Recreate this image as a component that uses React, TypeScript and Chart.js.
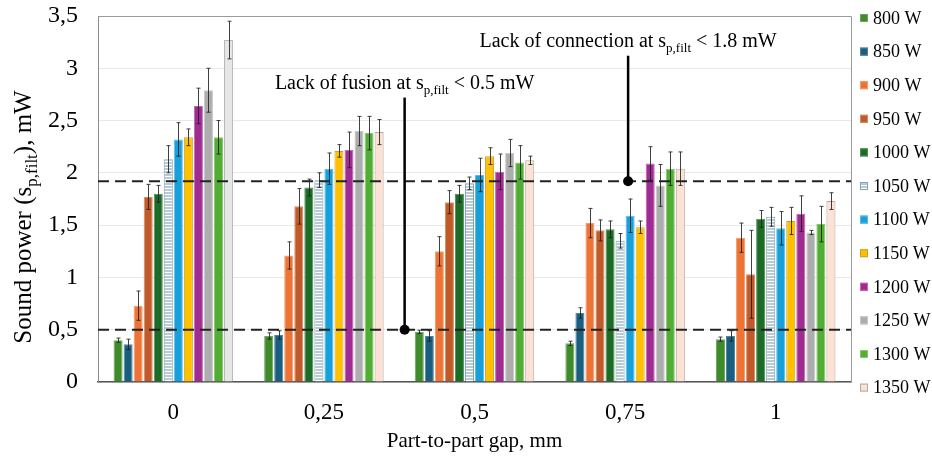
import React, { useEffect, useRef } from 'react';
import { Chart, registerables } from 'chart.js';
Chart.register(...registerables);

const FONT = '"Liberation Serif", "Times New Roman", serif';

// ---- data ----
const gaps = ['0', '0,25', '0,5', '0,75', '1'];
const powerLabels = ['800 W', '850 W', '900 W', '950 W', '1000 W', '1050 W', '1100 W', '1150 W', '1200 W', '1250 W', '1300 W', '1350 W'];
const yTicks = [0, 0.5, 1, 1.5, 2, 2.5, 3, 3.5];

const p800 = [0.40, 0.44, 0.48, 0.37, 0.41];
const p850 = [0.36, 0.45, 0.44, 0.66, 0.44];
const p900 = [0.73, 1.21, 1.25, 1.52, 1.38];
const p950 = [1.77, 1.68, 1.72, 1.45, 1.03];
const p1000 = [1.80, 1.86, 1.80, 1.46, 1.56];
const p1050 = [2.13, 1.93, 1.90, 1.35, 1.58];
const p1100 = [2.32, 2.04, 1.98, 1.59, 1.47];
const p1150 = [2.34, 2.21, 2.16, 1.48, 1.54];
const p1200 = [2.64, 2.22, 2.01, 2.09, 1.61];
const p1250 = [2.79, 2.40, 2.19, 1.88, 1.43];
const p1300 = [2.34, 2.38, 2.10, 2.04, 1.51];
const p1350 = [3.27, 2.39, 2.12, 2.04, 1.73];

const e800 = [0.02, 0.03, 0.015, 0.02, 0.02];
const e850 = [0.05, 0.04, 0.05, 0.05, 0.05];
const e900 = [0.14, 0.13, 0.14, 0.14, 0.14];
const e950 = [0.12, 0.17, 0.11, 0.10, 0.42];
const e1000 = [0.08, 0.08, 0.08, 0.08, 0.08];
const e1050 = [0.13, 0.07, 0.06, 0.07, 0.09];
const e1100 = [0.16, 0.15, 0.16, 0.16, 0.16];
const e1150 = [0.08, 0.06, 0.08, 0.06, 0.13];
const e1200 = [0.17, 0.17, 0.17, 0.16, 0.17];
const e1250 = [0.21, 0.14, 0.13, 0.20, 0.02];
const e1300 = [0.16, 0.16, 0.16, 0.16, 0.17];
const e1350 = [0.18, 0.12, 0.04, 0.16, 0.08];

const fusionLimit = 0.5;
const connectionLimit = 1.92;
const fusionMarkerX = 1.536;     // category-index position of the marker line
const connectionMarkerX = 3.02;
const fusionMarkerTop = 2.72;
const connectionMarkerTop = 3.12;
const fusionTextY = 2.8;
const connectionTextY = 3.2;

const values = [p800, p850, p900, p950, p1000, p1050, p1100, p1150, p1200, p1250, p1300, p1350];
const errors = [e800, e850, e900, e950, e1000, e1050, e1100, e1150, e1200, e1250, e1300, e1350];

export default function App() {
  const ref = useRef<HTMLCanvasElement>(null);

  useEffect(() => {
    const canvas = ref.current!;
    const tile = document.createElement('canvas');
    tile.width = 4;
    tile.height = 3;
    const tctx = tile.getContext('2d')!;
    tctx.fillStyle = '#b7cbd7';
    tctx.fillRect(0, 0, 4, 2);
    tctx.fillStyle = '#ffffff';
    tctx.fillRect(0, 2, 4, 1);
    const pattern = canvas.getContext('2d')!.createPattern(tile, 'repeat')!;

    const fills: any[] = [
      '#3f8a2a', '#1a5f80', '#ed7434', '#c05a28', '#1c6b27', pattern,
      '#17a0da', '#ffc000', '#a02b92', '#adadad', '#52ad34',
      ['#e6e6e6', '#fbe2d5', '#fbe2d5', '#fbe2d5', '#fbe2d5'],
    ];
    const borders: any[] = [
      '#6aa85a', '#4f86a0', '#f29a6a', '#d68a62', '#4f8f57', '#8aa3b2',
      '#5cbce6', '#c9a030', '#bd66b2', '#c8c8c8', '#86c870',
      ['#b8b8b8', '#b9a79d', '#b9a79d', '#b9a79d', '#b9a79d'],
    ];

    const datasets = values.map((v, i) => ({
      label: powerLabels[i],
      data: v,
      backgroundColor: fills[i],
      borderColor: borders[i],
      borderWidth: 1,
      categoryPercentage: 0.8,
      barPercentage: 0.9,
    }));

    const subText = (ctx: CanvasRenderingContext2D, parts: [string, boolean][], size: number) => {
      let w = 0;
      for (const [t, sub] of parts) {
        ctx.font = `${sub ? Math.round(size * 0.66) : size}px ${FONT}`;
        w += ctx.measureText(t).width;
      }
      return w;
    };
    const drawSubText = (ctx: CanvasRenderingContext2D, parts: [string, boolean][], size: number, x: number, y: number) => {
      ctx.textBaseline = 'alphabetic';
      ctx.textAlign = 'left';
      let cx = x;
      for (const [t, sub] of parts) {
        ctx.font = `${sub ? Math.round(size * 0.66) : size}px ${FONT}`;
        ctx.fillText(t, cx, sub ? y + size * 0.22 : y);
        cx += ctx.measureText(t).width;
      }
    };

    const overlay = {
      id: 'overlay',
      beforeDatasetsDraw(chart: any) {
        const { ctx, chartArea: a } = chart;
        ctx.save();
        ctx.strokeStyle = '#9a9a9a';
        ctx.lineWidth = 1;
        ctx.beginPath();
        ctx.moveTo(a.left, a.top + 0.5);
        ctx.lineTo(a.right + 0.5, a.top + 0.5);
        ctx.lineTo(a.right + 0.5, a.bottom);
        ctx.stroke();
        ctx.restore();
      },
      afterDatasetsDraw(chart: any) {
        const { ctx, chartArea: a, scales } = chart;
        const ys = scales.y;
        const xs = scales.x;
        ctx.save();
        // error bars
        ctx.strokeStyle = 'rgba(30,30,30,0.85)';
        ctx.lineWidth = 1;
        chart.data.datasets.forEach((ds: any, i: number) => {
          const meta = chart.getDatasetMeta(i);
          meta.data.forEach((bar: any, j: number) => {
            const v = ds.data[j];
            const e = errors[i][j];
            const y1 = ys.getPixelForValue(v + e);
            const y2 = ys.getPixelForValue(v - e);
            const x = Math.round(bar.x) + 0.5;
            ctx.beginPath();
            ctx.moveTo(x, y1);
            ctx.lineTo(x, y2);
            ctx.moveTo(x - 2, y1);
            ctx.lineTo(x + 2, y1);
            ctx.moveTo(x - 2, y2);
            ctx.lineTo(x + 2, y2);
            ctx.stroke();
          });
        });
        // dashed limits
        ctx.strokeStyle = '#222';
        ctx.lineWidth = 2;
        ctx.setLineDash([11, 6]);
        [fusionLimit, connectionLimit].forEach((lv) => {
          const y = ys.getPixelForValue(lv);
          ctx.beginPath();
          ctx.moveTo(a.left, y);
          ctx.lineTo(a.right, y);
          ctx.stroke();
        });
        ctx.setLineDash([]);
        // markers
        const markers = [
          { x: fusionMarkerX, top: fusionMarkerTop, bottom: fusionLimit, ty: fusionTextY, parts: [['Lack of fusion at s', false], ['p,filt', true], [' < 0.5 mW', false]] },
          { x: connectionMarkerX, top: connectionMarkerTop, bottom: connectionLimit, ty: connectionTextY, parts: [['Lack of connection at s', false], ['p,filt', true], [' < 1.8 mW', false]] },
        ];
        markers.forEach((m: any) => {
          const px = xs.getPixelForValue(m.x);
          const pt = ys.getPixelForValue(m.top);
          const pb = ys.getPixelForValue(m.bottom);
          ctx.strokeStyle = '#000';
          ctx.lineWidth = 2.5;
          ctx.beginPath();
          ctx.moveTo(px, pt);
          ctx.lineTo(px, pb);
          ctx.stroke();
          ctx.fillStyle = '#000';
          ctx.beginPath();
          ctx.arc(px, pb, 5, 0, Math.PI * 2);
          ctx.fill();
          const w = subText(ctx, m.parts, 20);
          ctx.fillStyle = '#000';
          drawSubText(ctx, m.parts, 20, px - w / 2, ys.getPixelForValue(m.ty));
        });
        ctx.restore();
      },
      afterDraw(chart: any) {
        const { ctx, chartArea: a } = chart;
        ctx.save();
        // y title
        const parts: [string, boolean][] = [['Sound power (s', false], ['p,filt', true], ['), mW', false]];
        const size = 25;
        const w = subText(ctx, parts, size);
        ctx.translate(31, 217);
        ctx.rotate(-Math.PI / 2);
        ctx.fillStyle = '#000';
        drawSubText(ctx, parts, size, -w / 2, 0);
        ctx.restore();
        // legend
        ctx.save();
        const step = 33.6;
        const top = a.top + 2;
        powerLabels.forEach((lab, i) => {
          const cy = top + i * step;
          const bx = a.right + 9;
          ctx.fillStyle = Array.isArray(fills[i]) ? fills[i][1] : fills[i];
          ctx.fillRect(bx, cy - 4, 8, 8);
          ctx.strokeStyle = Array.isArray(borders[i]) ? borders[i][1] : borders[i];
          ctx.lineWidth = 1;
          ctx.strokeRect(bx + 0.5, cy - 3.5, 7, 7);
          ctx.fillStyle = '#000';
          ctx.font = `18px ${FONT}`;
          ctx.textAlign = 'left';
          ctx.textBaseline = 'middle';
          ctx.fillText(lab, a.right + 22, cy + 1);
        });
        ctx.restore();
      },
    };

    const chart = new Chart(canvas, {
      type: 'bar',
      data: { labels: gaps, datasets },
      plugins: [overlay],
      options: {
        animation: false,
        responsive: true,
        maintainAspectRatio: false,
        layout: { padding: { top: 16, right: 81, left: 0, bottom: 0 } },
        plugins: { legend: { display: false }, tooltip: { enabled: false } },
        scales: {
          x: {
            grid: { display: false },
            border: { color: '#555', width: 1.5 },
            ticks: { color: '#000', font: { family: FONT, size: 23 }, padding: 9 },
            title: { display: true, text: 'Part-to-part gap, mm', color: '#000', font: { family: FONT, size: 21 }, padding: { top: 0, bottom: 6 } },
            afterFit: (s: any) => { s.height = 78; },
          },
          y: {
            min: 0,
            max: 3.5,
            afterBuildTicks: (s: any) => { s.ticks = yTicks.map((v) => ({ value: v })); },
            grid: { color: '#e8e8e8', drawTicks: false },
            border: { color: '#8c8c8c', width: 1 },
            ticks: {
              color: '#000',
              font: { family: FONT, size: 24 },
              padding: 20,
              callback: (v: any) => String(v).replace('.', ','),
            },
            afterFit: (s: any) => { s.width = 98; s.paddingTop = 0; s.paddingBottom = 0; },
          },
        },
      },
    });
    return () => chart.destroy();
  }, []);

  return (
    <div style={{ position: 'fixed', left: 0, top: 0, width: 932, height: 460, background: '#fff' }}>
      <canvas ref={ref} />
    </div>
  );
}
